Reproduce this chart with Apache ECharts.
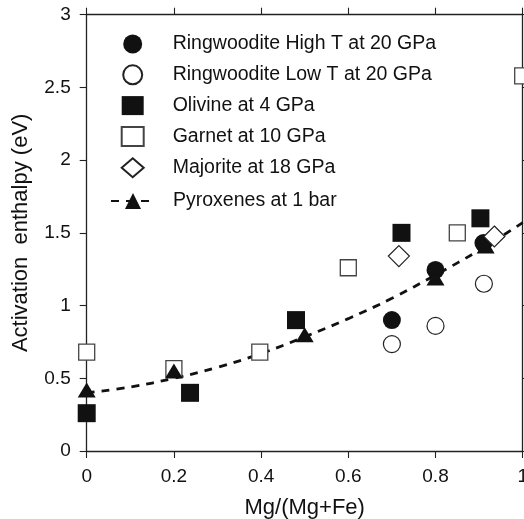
<!DOCTYPE html>
<html>
<head>
<meta charset="utf-8">
<style>
  html, body { margin: 0; padding: 0; background: #fff; }
  #chart { width: 524px; height: 519px; }
</style>
<script src="https://cdn.jsdelivr.net/npm/echarts@6/dist/echarts.min.js"></script>
</head>
<body>
<div id="chart"></div>
<script>
// Activation enthalpy versus Mg number, points as [Mg/(Mg+Fe), eV]
const ringwooditeHighT = [[0.70, 0.90], [0.80, 1.245], [0.91, 1.43]];
const ringwooditeLowT  = [[0.70, 0.735], [0.80, 0.86], [0.911, 1.15]];
const olivine          = [[0, 0.26], [0.237, 0.40], [0.48, 0.90], [0.722, 1.50], [0.903, 1.60]];
const garnet           = [[0, 0.68], [0.20, 0.566], [0.397, 0.68], [0.60, 1.26], [0.85, 1.50], [1.0, 2.58]];
const majorite         = [[0.716, 1.34], [0.935, 1.475]];
const pyroxenes        = [[0, 0.42], [0.20, 0.55], [0.50, 0.80], [0.80, 1.19], [0.915, 1.41]];

// Trend curve through the pyroxene data
const trendX = [0, 0.1, 0.2, 0.3, 0.4, 0.5, 0.6, 0.7, 0.8, 0.9, 1.0];
const trendY = [0.40, 0.44, 0.50, 0.575, 0.67, 0.785, 0.91, 1.05, 1.21, 1.38, 1.57];

const xTicks = { min: 0, max: 1, interval: 0.2 };
const yTicks = { min: 0, max: 3, interval: 0.5 };

const names = {
  rh: 'Ringwoodite High T at 20 GPa',
  rl: 'Ringwoodite Low T at 20 GPa',
  ol: 'Olivine at 4 GPa',
  ga: 'Garnet at 10 GPa',
  mj: 'Majorite at 18 GPa',
  px: 'Pyroxenes at 1 bar'
};

const FONT = "'Liberation Sans', Arial, Helvetica, sans-serif";
const INK = '#111';
const AXIS = '#222';

const axisLine = { show: true, onZero: false, lineStyle: { color: AXIS, width: 1.3 } };
const axisTick = { show: true, inside: false, length: 7, lineStyle: { color: AXIS, width: 1.1 } };
const tickLabel = { fontSize: 19, color: INK, fontFamily: FONT };

const chart = echarts.init(document.getElementById('chart'), null, { renderer: 'canvas' });

chart.setOption({
  animation: false,
  backgroundColor: '#fff',
  grid: { left: 86.7, right: 1.3, top: 14.7, bottom: 68, containLabel: false, outerBoundsMode: 'none' },
  legend: [
    {
      orient: 'vertical',
      left: 115.7,
      top: 29,
      padding: 5,
      itemWidth: 22,
      itemHeight: 19,
      itemGap: 10.3,
      selectedMode: false,
      textStyle: { fontSize: 19.5, color: INK, fontFamily: FONT, lineHeight: 20, padding: [0, 0, 0, 24] },
      data: [names.rh, names.rl, names.ol, names.ga, names.mj]
    },
    {
      orient: 'vertical',
      left: 105,
      top: 186,
      padding: 5,
      itemWidth: 44,
      itemHeight: 20,
      selectedMode: false,
      textStyle: { fontSize: 19.5, color: INK, fontFamily: FONT, lineHeight: 20, padding: [0, 0, 0, 13] },
      data: [names.px]
    }
  ],
  xAxis: [
    {
      type: 'value',
      position: 'bottom',
      min: xTicks.min, max: xTicks.max, interval: xTicks.interval,
      name: 'Mg/(Mg+Fe)',
      nameLocation: 'middle',
      nameGap: 45.5,
      nameTextStyle: { fontSize: 22, color: INK, fontFamily: FONT },
      axisLine: axisLine,
      axisTick: axisTick,
      axisLabel: Object.assign({ margin: 16.5 }, tickLabel),
      splitLine: { show: false }
    },
    {
      type: 'value',
      position: 'top',
      min: xTicks.min, max: xTicks.max, interval: xTicks.interval,
      axisLine: axisLine,
      axisTick: axisTick,
      axisLabel: { show: false },
      splitLine: { show: false }
    }
  ],
  yAxis: [
    {
      type: 'value',
      position: 'left',
      min: yTicks.min, max: yTicks.max, interval: yTicks.interval,
      name: 'Activation  enthalpy (eV)',
      nameLocation: 'middle',
      nameGap: 55,
      nameTextStyle: { fontSize: 22, color: INK, fontFamily: FONT },
      axisLine: axisLine,
      axisTick: axisTick,
      axisLabel: Object.assign({ margin: 16 }, tickLabel),
      splitLine: { show: false }
    },
    {
      type: 'value',
      position: 'right',
      min: yTicks.min, max: yTicks.max, interval: yTicks.interval,
      axisLine: axisLine,
      axisTick: axisTick,
      axisLabel: { show: false },
      splitLine: { show: false }
    }
  ],
  series: [
    {
      name: names.rh, type: 'scatter', clip: false,
      symbol: 'circle', symbolSize: 18,
      itemStyle: { color: INK, borderWidth: 0, opacity: 1 },
      data: ringwooditeHighT
    },
    {
      name: names.rl, type: 'scatter', clip: false,
      symbol: 'circle', symbolSize: 17,
      itemStyle: { color: '#fff', borderColor: '#222', borderWidth: 1.2, opacity: 1 },
      data: ringwooditeLowT
    },
    {
      name: names.ol, type: 'scatter', clip: false,
      symbol: 'rect', symbolSize: 18,
      itemStyle: { color: INK, borderWidth: 0, opacity: 1 },
      data: olivine
    },
    {
      name: names.ga, type: 'scatter', clip: false,
      symbol: 'rect', symbolSize: 16,
      itemStyle: { color: '#fff', borderColor: '#444', borderWidth: 1.3, opacity: 1 },
      data: garnet
    },
    {
      name: names.px, type: 'line', clip: false,
      symbol: 'triangle', showSymbol: false, smooth: 0.4,
      itemStyle: { color: INK, opacity: 1 },
      lineStyle: { color: INK, width: 2.8, type: [8, 7] },
      data: trendX.map((x, i) => [x, trendY[i]]),
      z: 2
    },
    {
      name: names.px, type: 'scatter', clip: false,
      symbol: 'triangle', symbolSize: [18, 15],
      itemStyle: { color: INK, borderWidth: 0, opacity: 1 },
      data: pyroxenes,
      z: 3
    },
    {
      name: names.mj, type: 'scatter', clip: false,
      symbol: 'diamond', symbolSize: 21,
      itemStyle: { color: '#fff', borderColor: '#222', borderWidth: 1.2, opacity: 1 },
      data: majorite,
      z: 4
    }
  ]
});
</script>
</body>
</html>
